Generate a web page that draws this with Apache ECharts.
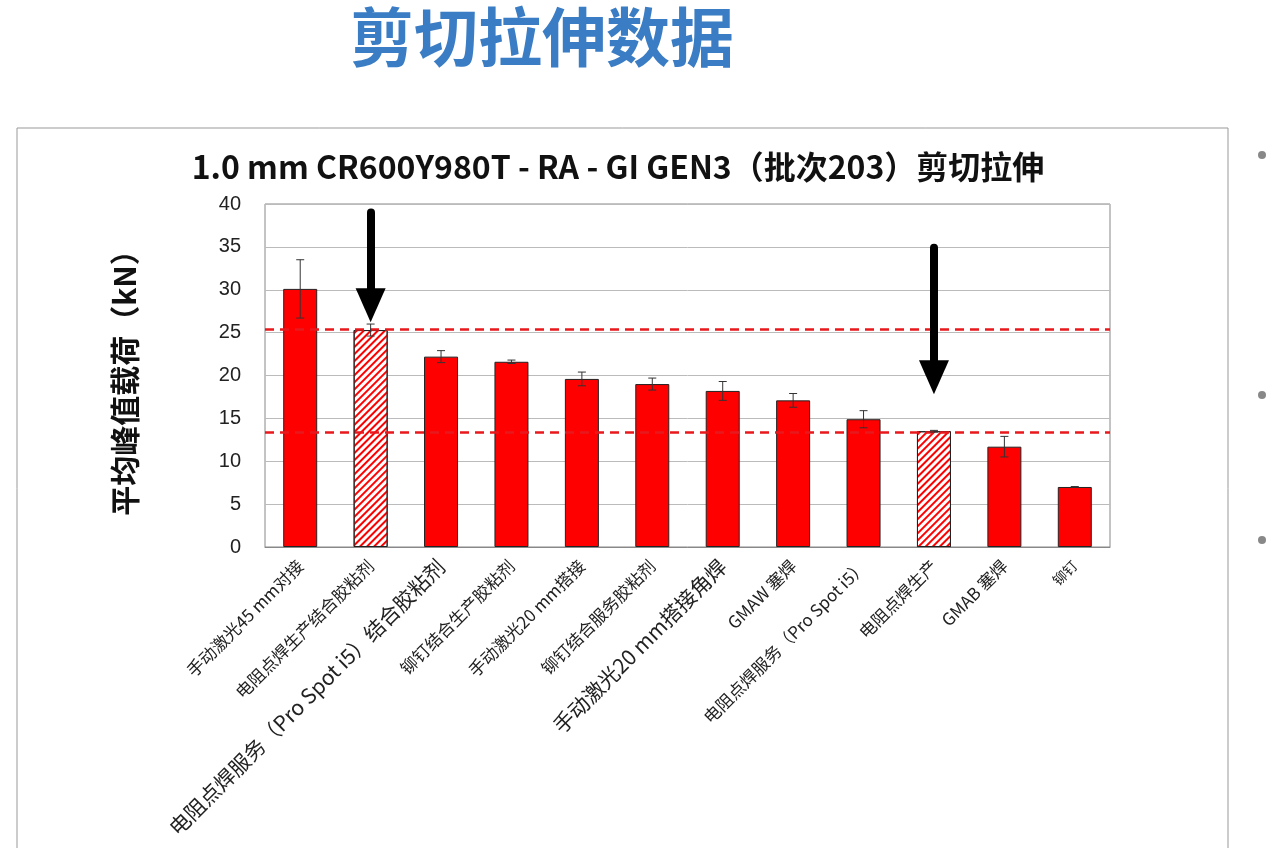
<!DOCTYPE html>
<html>
<head>
<meta charset="utf-8">
<script src="https://cdn.jsdelivr.net/npm/echarts@6/dist/echarts.min.js"></script>
<style>
  html, body { margin: 0; padding: 0; background: #fff; }
  #main { width: 1280px; height: 848px; }
</style>
</head>
<body>
<div id="main"></div>
<script>
// 数据
var categories = ['手动激光45 mm对接', '电阻点焊生产结合胶粘剂', '电阻点焊服务（Pro Spot i5）结合胶粘剂',
  '铆钉结合生产胶粘剂', '手动激光20 mm搭接', '铆钉结合服务胶粘剂', '手动激光20 mm搭接角焊',
  'GMAW 塞焊', '电阻点焊服务（Pro Spot i5）', '电阻点焊生产', 'GMAB 塞焊', '铆钉'];
var values = [30.1, 25.3, 22.2, 21.6, 19.6, 19.0, 18.2, 17.1, 14.9, 13.5, 11.7, 7.0];
var errors = [3.4, 0.7, 0.7, 0.2, 0.8, 0.7, 1.1, 0.8, 1.0, 0.1, 1.2, 0.05];
var hatched = [1, 9];
var bigLabels = [2, 6];
var smallLabels = [11];
var refLines = [25.4, 13.4];
var arrows = [[1, 39, 28.2], [9, 34.9, 19.8]];

var chart = echarts.init(document.getElementById('main'));

var barData = values.map(function (v, i) {
  if (hatched.indexOf(i) >= 0) {
    return {
      value: v,
      itemStyle: {
        color: '#fff',
        decal: { symbol: 'rect', color: '#ff0000', dashArrayX: [1, 0], dashArrayY: [2, 3], rotation: -Math.PI / 4, symbolSize: 1 }
      }
    };
  }
  return v;
});

var catData = categories.map(function (c, i) {
  if (bigLabels.indexOf(i) >= 0) return { value: c, textStyle: { fontSize: 21 } };
  if (smallLabels.indexOf(i) >= 0) return { value: c, textStyle: { fontSize: 14 } };
  return c;
});

var option = {
  backgroundColor: '#fff',
  title: [{
    text: '剪切拉伸数据',
    left: 345, top: 0,
    textStyle: { fontSize: 64, fontWeight: 'bold', color: '#3b7dc4', fontFamily: 'Noto Sans CJK SC' }
  }, {
    text: '1.0 mm CR600Y980T - RA - GI GEN3（批次203）剪切拉伸',
    left: 613, top: 146, textAlign: 'center',
    textStyle: { fontSize: 32, fontWeight: 'bold', color: '#111', fontFamily: 'Noto Sans CJK SC' }
  }],
  graphic: [{
    type: 'rect', shape: { x: 17, y: 128, width: 1211, height: 730 },
    style: { fill: 'none', stroke: '#999', lineWidth: 1 }
  }].concat([155, 395, 540].map(function (y) {
    return { type: 'circle', shape: { cx: 1262, cy: y, r: 4 }, style: { fill: '#888' } };
  })),
  grid: { left: 265, right: 170, top: 204, bottom: 301, show: true, borderColor: '#888', borderWidth: 1 },
  xAxis: {
    type: 'category',
    data: catData,
    axisTick: { show: false },
    axisLine: { lineStyle: { color: '#888' } },
    axisLabel: {
      interval: 0, rotate: 45, fontSize: 17, color: '#222', margin: 16,
      fontFamily: 'Noto Sans CJK SC'
    }
  },
  yAxis: {
    type: 'value', min: 0, max: 40, interval: 5,
    name: '平均峰值载荷（kN）',
    nameLocation: 'middle', nameGap: 125,
    nameTextStyle: { fontSize: 30, fontWeight: 'bold', color: '#111', fontFamily: 'Noto Sans CJK SC' },
    axisLine: { show: false },
    axisTick: { show: false },
    axisLabel: { fontSize: 20, color: '#222', margin: 24 },
    splitLine: { lineStyle: { color: '#bbb', width: 1 } }
  },
  series: [{
    type: 'bar',
    data: barData,
    barWidth: 34,
    itemStyle: { color: '#ff0000', borderColor: '#222', borderWidth: 1 },
    markLine: {
      silent: true, symbol: 'none', label: { show: false },
      lineStyle: { color: '#e8191c', type: [9, 6], width: 2.5 },
      data: refLines.map(function (v) { return { yAxis: v }; })
    },
    z: 2
  }, {
    type: 'custom',
    data: values.map(function (v, i) { return [i, v - errors[i], v + errors[i]]; }),
    renderItem: function (params, api) {
      var lo = api.coord([api.value(0), api.value(1)]);
      var hi = api.coord([api.value(0), api.value(2)]);
      var w = 4;
      var st = { stroke: '#333', lineWidth: 1 };
      return {
        type: 'group', children: [
          { type: 'line', shape: { x1: lo[0], y1: lo[1], x2: hi[0], y2: hi[1] }, style: st },
          { type: 'line', shape: { x1: lo[0] - w, y1: lo[1], x2: lo[0] + w, y2: lo[1] }, style: st },
          { type: 'line', shape: { x1: hi[0] - w, y1: hi[1], x2: hi[0] + w, y2: hi[1] }, style: st }
        ]
      };
    },
    z: 5
  }, {
    type: 'line',
    data: [],
    markLine: {
      silent: true,
      symbol: ['none', 'triangle'], symbolSize: [30, 34],
      label: { show: false },
      lineStyle: { color: '#000', type: 'solid', width: 8, cap: 'round' },
      itemStyle: { color: '#000' },
      data: arrows.map(function (a) {
        return [{ coord: [a[0], a[1]] }, { coord: [a[0], a[2]] }];
      })
    },
    z: 6
  }]
};

chart.setOption(option);
</script>
</body>
</html>
